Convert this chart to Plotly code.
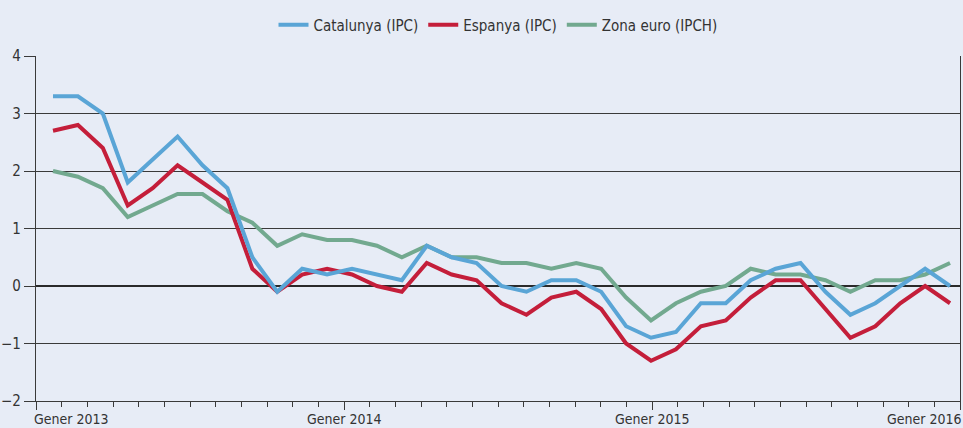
import plotly.graph_objects as go

# Monthly year-on-year inflation (%), Jan 2013 - Jan 2016
months = list(range(37))
catalunya = [3.3, 3.3, 3.0, 1.8, 2.2, 2.6, 2.1, 1.7, 0.5, -0.1, 0.3, 0.2,
             0.3, 0.2, 0.1, 0.7, 0.5, 0.4, 0.0, -0.1, 0.1, 0.1, -0.1, -0.7,
             -0.9, -0.8, -0.3, -0.3, 0.1, 0.3, 0.4, -0.1, -0.5, -0.3, 0.0, 0.3,
             0.0]
espanya = [2.7, 2.8, 2.4, 1.4, 1.7, 2.1, 1.8, 1.5, 0.3, -0.1, 0.2, 0.3,
           0.2, 0.0, -0.1, 0.4, 0.2, 0.1, -0.3, -0.5, -0.2, -0.1, -0.4, -1.0,
           -1.3, -1.1, -0.7, -0.6, -0.2, 0.1, 0.1, -0.4, -0.9, -0.7, -0.3, 0.0,
           -0.3]
zona_euro = [2.0, 1.9, 1.7, 1.2, 1.4, 1.6, 1.6, 1.3, 1.1, 0.7, 0.9, 0.8,
             0.8, 0.7, 0.5, 0.7, 0.5, 0.5, 0.4, 0.4, 0.3, 0.4, 0.3, -0.2,
             -0.6, -0.3, -0.1, 0.0, 0.3, 0.2, 0.2, 0.1, -0.1, 0.1, 0.1, 0.2,
             0.4]
tick_months = [0, 12, 24, 36]
tick_labels = ["Gener 2013", "Gener 2014", "Gener 2015", "Gener 2016"]

FONT = "Liberation Sans Narrow, DejaVu Sans Condensed, Arial Narrow, sans-serif"
GRID = "#3a3a3a"
BG = "#e7ecf6"

fig = go.Figure()
series = [
    ("Zona euro (IPCH)", zona_euro, "#72a98f", 3),
    ("Espanya (IPC)", espanya, "#c41e3a", 2),
    ("Catalunya (IPC)", catalunya, "#5aa5d6", 1),
]
for name, vals, col, rank in series:
    fig.add_trace(go.Scatter(x=months, y=vals, name=name, mode="lines",
                             line=dict(color=col, width=4),
                             legendrank=rank, xaxis="x", yaxis="y"))

# invisible trace to activate tick axis
fig.add_trace(go.Scatter(x=[0, 36], y=[None, None], xaxis="x2", yaxis="y",
                         showlegend=False, hoverinfo="skip"))

anchors = ["left", "center", "center", "right"]
shifts = [-4, 0, 0, 3]
for m, lab, a, s in zip(tick_months, tick_labels, anchors, shifts):
    fig.add_annotation(x=m, xref="x2", y=0, yref="paper", text=lab,
                       showarrow=False, xanchor=a, yanchor="middle",
                       yshift=-18, xshift=s,
                       font=dict(family=FONT, size=14, color="#333"))

fig.update_layout(
    width=963, height=428,
    margin=dict(l=36, r=3, t=56, b=27, autoexpand=False),
    paper_bgcolor=BG, plot_bgcolor=BG,
    font=dict(family=FONT, size=16, color="#333"),
    showlegend=True,
    legend=dict(orientation="h", x=0.5, xanchor="center", y=1.09,
                yanchor="middle", bgcolor="rgba(0,0,0,0)",
                font=dict(family=FONT, size=15, color="#333")),
    xaxis=dict(range=[-0.682, 36.40], visible=False, showgrid=False,
               automargin=False),
    xaxis2=dict(range=[0, 36], overlaying="x", anchor="y", side="bottom",
                showgrid=False, zeroline=False, showline=True,
                linecolor=GRID, linewidth=1.2, automargin=False,
                tickvals=tick_months, ticks="outside", ticklen=8,
                tickcolor=GRID, tickwidth=1.2, showticklabels=False,
                minor=dict(ticks="outside", ticklen=5, dtick=1, tick0=0,
                           tickcolor=GRID, tickwidth=1)),
    yaxis=dict(range=[-2, 4], dtick=1, tick0=0, showgrid=True,
               gridcolor=GRID, gridwidth=1.2, zeroline=True,
               zerolinecolor="#2a2a2a", zerolinewidth=1.6, automargin=False,
               showline=True, linecolor=GRID, linewidth=1.2, mirror=True,
               ticks="outside", ticklen=11, tickcolor=GRID, tickwidth=1.2,
               tickfont=dict(family=FONT, size=15, color="#333")),
)

fig.write_html(
    "out.html",
    config={"displayModeBar": False},
    post_script="document.body.style.margin='0';"
                "document.body.style.background='%s';"
                "document.body.style.overflow='hidden';" % BG,
)
